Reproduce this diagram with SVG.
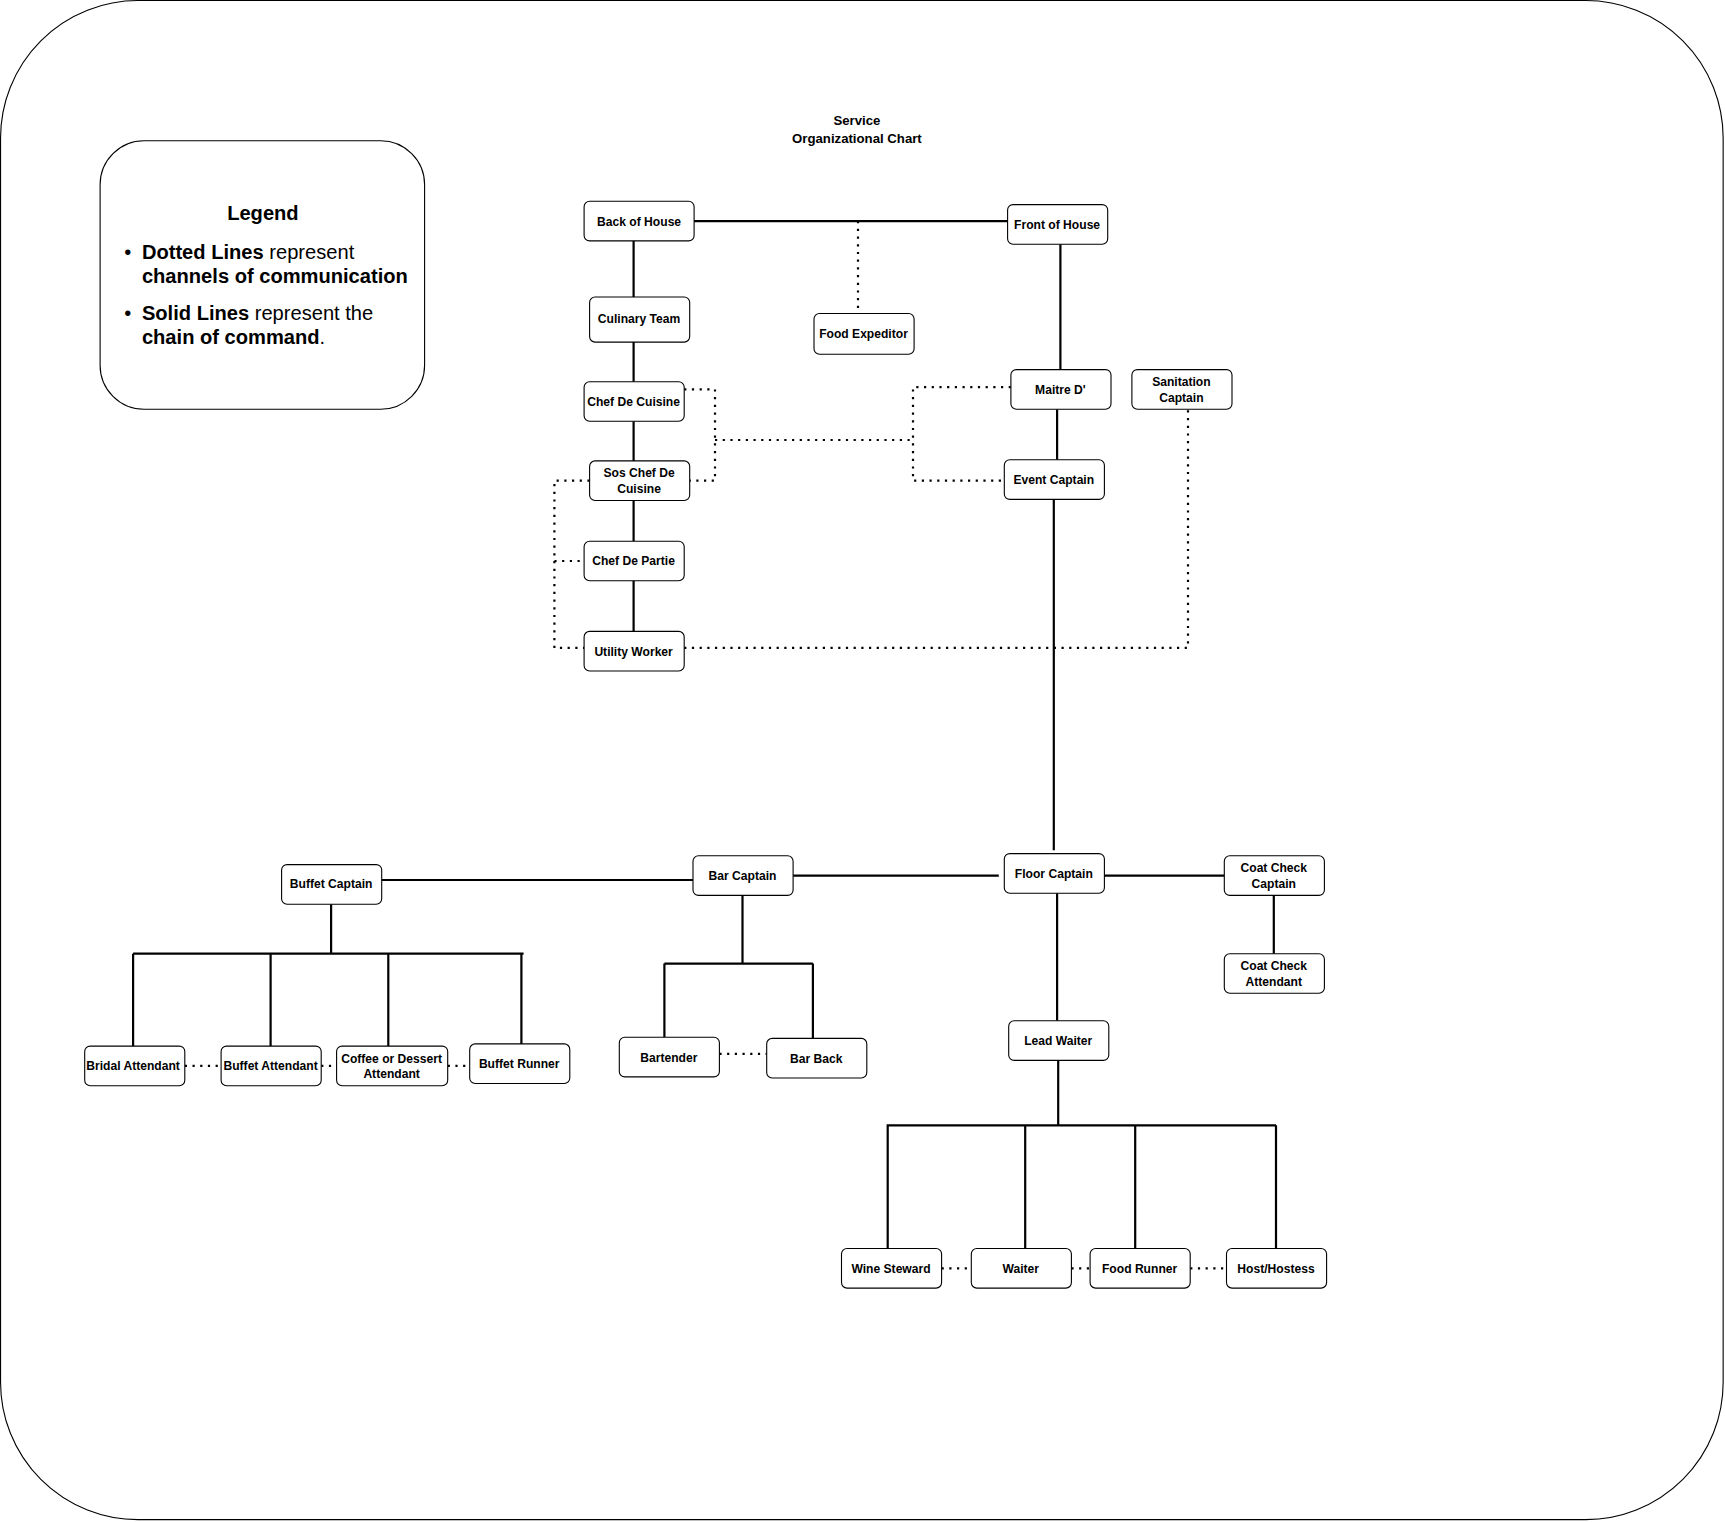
<svg xmlns="http://www.w3.org/2000/svg" width="1725" height="1522" viewBox="0 0 1725 1522">
<style>
.n rect{fill:#fff;stroke:#000;stroke-width:1}
.n text,.t{font-family:"Liberation Sans",Arial,sans-serif;font-weight:bold;font-size:11px;text-anchor:middle}
.t{font-size:12px}
.s{stroke:#000;stroke-width:2;fill:none}
.d{stroke:#000;stroke-width:2;fill:none;stroke-dasharray:2 5}
.lg{font-family:"Liberation Sans",Arial,sans-serif;font-size:18.3px}
</style>
<rect width="1725" height="1522" fill="#fff"/>
<g transform="scale(1.1)">
<rect x="0.5" y="0.5" width="1566" height="1381" rx="125" fill="#fff" stroke="#000"/>
<g id="legend">
<rect x="91" y="128" width="295" height="244" rx="40" fill="#fff" stroke="#000"/>
<text class="lg" x="239" y="200" text-anchor="middle" font-weight="bold">Legend</text>
<text class="lg" x="113" y="235" font-size="12">•</text>
<text class="lg" x="129" y="235"><tspan font-weight="bold">Dotted Lines</tspan> represent</text>
<text class="lg" x="129" y="257" font-weight="bold">channels of communication</text>
<text class="lg" x="113" y="291" font-size="12">•</text>
<text class="lg" x="129" y="291"><tspan font-weight="bold">Solid Lines</tspan> represent the</text>
<text class="lg" x="129" y="313"><tspan font-weight="bold">chain of command</tspan>.</text>
</g>
<g id="title"><text class="t" x="779" y="114">Service</text><text class="t" x="779" y="130">Organizational Chart</text></g>
<g id="connectors">
<path class="s" d="M631 201H916M576 219V270M576 311V347M576 383V419M576 455V492M576 528V574M964 222V336M961 372V418M958 454V773M1004 796H1113M1158 814V867M721 796H908M347 800H630M301 822V867M121 867H476M121 867V951M246 867V951M353 867V951M474 867V949M675 814V876M604 876H739M604 876V943M739 876V944M961 812V928M962 964V1023M806 1023H1160M807 1023V1135M932 1023V1135M1032 1023V1135M1160 1023V1135"/>
<path class="d" d="M780 201V285M622 354H650V437H627M650 400H830M919 352H830V437H913M536 437H504V589H531M504 510H531M622 589H1080V372M168 969H201M292 969H306M407 969H427M654 958H697M856 1153H883M974 1153H991M1082 1153H1115"/>
</g>
<g id="boh" class="n"><rect x="531" y="183" width="100" height="36" rx="5"/><text x="581" y="205">Back of House</text></g>
<g id="foh" class="n"><rect x="916" y="186" width="91" height="36" rx="5"/><text x="961" y="208">Front of House</text></g>
<g id="culinary" class="n"><rect x="536" y="270" width="91" height="41" rx="5"/><text x="581" y="294">Culinary Team</text></g>
<g id="expeditor" class="n"><rect x="740" y="285" width="91" height="37" rx="5"/><text x="785" y="307">Food Expeditor</text></g>
<g id="chefdecuisine" class="n"><rect x="531" y="347" width="91" height="36" rx="5"/><text x="576" y="369">Chef De Cuisine</text></g>
<g id="maitre" class="n"><rect x="919" y="336" width="91" height="36" rx="5"/><text x="964" y="358">Maitre D'</text></g>
<g id="sanitation" class="n"><rect x="1029" y="336" width="91" height="36" rx="5"/><text x="1074" y="351">Sanitation</text><text x="1074" y="365">Captain</text></g>
<g id="sos" class="n"><rect x="536" y="419" width="91" height="36" rx="5"/><text x="581" y="434">Sos Chef De</text><text x="581" y="448">Cuisine</text></g>
<g id="event" class="n"><rect x="913" y="418" width="91" height="36" rx="5"/><text x="958" y="440">Event Captain</text></g>
<g id="partie" class="n"><rect x="531" y="492" width="91" height="36" rx="5"/><text x="576" y="514">Chef De Partie</text></g>
<g id="utility" class="n"><rect x="531" y="574" width="91" height="36" rx="5"/><text x="576" y="596">Utility Worker</text></g>
<g id="buffetcaptain" class="n"><rect x="256" y="786" width="91" height="36" rx="5"/><text x="301" y="807">Buffet Captain</text></g>
<g id="barcaptain" class="n"><rect x="630" y="778" width="91" height="36" rx="5"/><text x="675" y="800">Bar Captain</text></g>
<g id="floorcaptain" class="n"><rect x="913" y="776" width="91" height="36" rx="5"/><text x="958" y="798">Floor Captain</text></g>
<g id="coatcaptain" class="n"><rect x="1113" y="778" width="91" height="36" rx="5"/><text x="1158" y="793">Coat Check</text><text x="1158" y="807">Captain</text></g>
<g id="coatattendant" class="n"><rect x="1113" y="867" width="91" height="36" rx="5"/><text x="1158" y="882">Coat Check</text><text x="1158" y="896">Attendant</text></g>
<g id="leadwaiter" class="n"><rect x="917" y="928" width="91" height="36" rx="5"/><text x="962" y="950">Lead Waiter</text></g>
<g id="bridal" class="n"><rect x="77" y="951" width="91" height="36" rx="5"/><text x="121" y="973">Bridal Attendant</text></g>
<g id="buffetattendant" class="n"><rect x="201" y="951" width="91" height="36" rx="5"/><text x="246" y="973">Buffet Attendant</text></g>
<g id="coffee" class="n"><rect x="306" y="951" width="101" height="36" rx="5"/><text x="356" y="966">Coffee or Dessert</text><text x="356" y="980">Attendant</text></g>
<g id="buffetrunner" class="n"><rect x="427" y="949" width="91" height="36" rx="5"/><text x="472" y="971">Buffet Runner</text></g>
<g id="bartender" class="n"><rect x="563" y="943" width="91" height="36" rx="5"/><text x="608" y="965">Bartender</text></g>
<g id="barback" class="n"><rect x="697" y="944" width="91" height="36" rx="5"/><text x="742" y="966">Bar Back</text></g>
<g id="wine" class="n"><rect x="765" y="1135" width="91" height="36" rx="5"/><text x="810" y="1157">Wine Steward</text></g>
<g id="waiter" class="n"><rect x="883" y="1135" width="91" height="36" rx="5"/><text x="928" y="1157">Waiter</text></g>
<g id="foodrunner" class="n"><rect x="991" y="1135" width="91" height="36" rx="5"/><text x="1036" y="1157">Food Runner</text></g>
<g id="host" class="n"><rect x="1115" y="1135" width="91" height="36" rx="5"/><text x="1160" y="1157">Host/Hostess</text></g>
</g>
</svg>
